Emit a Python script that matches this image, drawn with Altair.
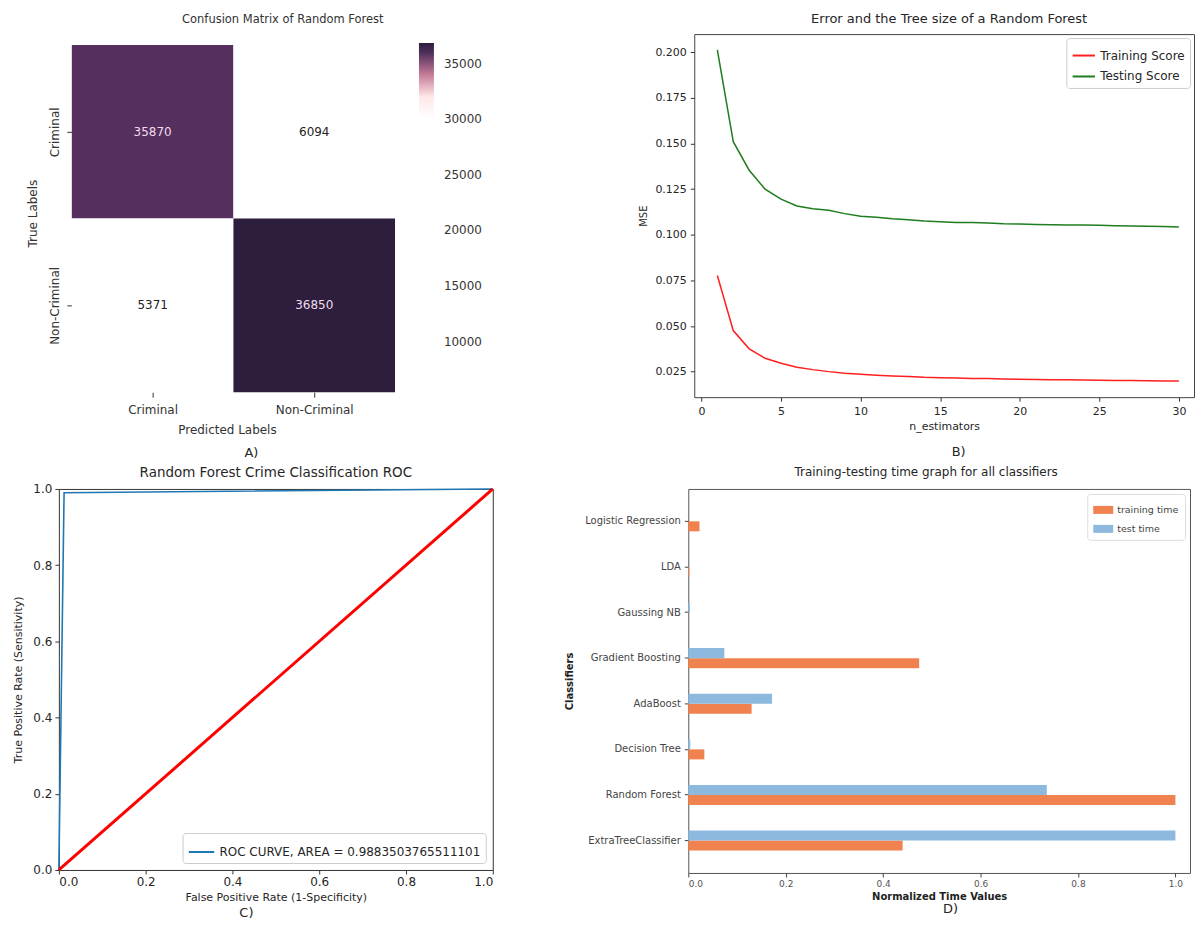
import altair as alt
import pandas as pd

# ---------------- Panel A: confusion matrix ----------------
cm_labels = ["Criminal", "Non-Criminal"]
cm_true = ["Criminal", "Criminal", "Non-Criminal", "Non-Criminal"]
cm_pred = ["Criminal", "Non-Criminal", "Criminal", "Non-Criminal"]
cm_values = [35870, 6094, 5371, 36850]
cm_ticks = [10000, 15000, 20000, 25000, 30000, 35000]

# ---------------- Panel B: error vs tree count ----------------
n_estimators = list(range(1, 31))
train_mse = [0.0777, 0.0475, 0.0375, 0.0323, 0.0296, 0.0274, 0.0261, 0.0250, 0.0241, 0.0235,
             0.0230, 0.0226, 0.0223, 0.0219, 0.0217, 0.0215, 0.0213, 0.0212, 0.0210, 0.0208,
             0.0207, 0.0206, 0.0205, 0.0204, 0.0203, 0.0202, 0.0201, 0.0200, 0.0199, 0.0198]
test_mse = [0.2013, 0.1510, 0.1354, 0.1250, 0.1195, 0.1158, 0.1143, 0.1134, 0.1116, 0.1101,
            0.1096, 0.1088, 0.1083, 0.1076, 0.1072, 0.1068, 0.1067, 0.1065, 0.1061, 0.1059,
            0.1057, 0.1055, 0.1054, 0.1054, 0.1052, 0.1050, 0.1048, 0.1047, 0.1045, 0.1043]
b_xticks = [0, 5, 10, 15, 20, 25, 30]
b_yticks = [0.025, 0.050, 0.075, 0.100, 0.125, 0.150, 0.175, 0.200]

# ---------------- Panel C: ROC ----------------
roc_fpr = [0.0, 0.012, 1.0]
roc_tpr = [0.0, 0.99, 1.0]
diag_vals = [0.0, 1.0]
roc_label = "ROC CURVE, AREA = 0.9883503765511101"
unit_ticks = [0.0, 0.2, 0.4, 0.6, 0.8, 1.0]

# ---------------- Panel D: timing ----------------
classifiers = ["Logistic Regression", "LDA", "Gaussing NB", "Gradient Boosting",
               "AdaBoost", "Decision Tree", "Random Forest", "ExtraTreeClassifier"]
training_time = [0.023, 0.002, 0.0, 0.474, 0.130, 0.033, 1.0, 0.440]
test_time = [0.0, 0.0, 0.003, 0.074, 0.172, 0.004, 0.736, 1.0]

FONT = "DejaVu Sans"
TXT = "#262626"


def letter(txt, x, y):
    return alt.Chart(pd.DataFrame({"t": [txt]})).mark_text(
        fontSize=13, color=TXT, font=FONT
    ).encode(x=alt.value(x), y=alt.value(y), text="t:N")


# ---- A ----
n_lab = len(cm_labels)
df_cm = pd.DataFrame({"true": cm_true, "pred": cm_pred, "value": cm_values})
df_cm["x0"] = [cm_labels.index(p) for p in cm_pred]
df_cm["x1"] = df_cm["x0"] + 1
df_cm["y0"] = [n_lab - 1 - cm_labels.index(t) for t in cm_true]
df_cm["y1"] = df_cm["y0"] + 1
df_cm["xc"] = df_cm["x0"] + 0.5
df_cm["yc"] = df_cm["y0"] + 0.5

xa = alt.X("x0:Q", scale=alt.Scale(domain=[-0.0802, 2], nice=False, zero=False),
           axis=alt.Axis(title="Predicted Labels", values=[0.5, 1.5],
                         labelExpr="datum.value < 1 ? 'Criminal' : 'Non-Criminal'",
                         labelAngle=0, labelFontSize=12, titleFontSize=12,
                         titleFontWeight="normal", tickSize=5, labelPadding=7,
                         titlePadding=9, domain=False, tickColor="#333",
                         labelColor="#333", titleColor="#333"))
ya = alt.Y("y0:Q", scale=alt.Scale(domain=[0, 2.0632], nice=False, zero=False),
           axis=alt.Axis(title="True Labels", values=[0.5, 1.5],
                         labelExpr="datum.value > 1 ? 'Criminal' : 'Non-Criminal'",
                         labelAngle=270, labelAlign="center", labelBaseline="bottom",
                         labelFontSize=12, titleFontSize=12, titleFontWeight="normal",
                         tickSize=5, labelPadding=5, titlePadding=9, domain=False,
                         offset=-13, tickColor="#333", labelColor="#333",
                         titleColor="#333"))
rect = alt.Chart(df_cm).mark_rect().encode(
    x=xa, x2="x1:Q", y=ya, y2="y1:Q",
    color=alt.Color("value:Q",
                    scale=alt.Scale(domain=[5371, 31200, 32600, 33600, 34600, 35870, 36850],
                                    range=["#ffffff", "#ffffff", "#f7dcdc", "#dc93a7",
                                           "#a25885", "#55305e", "#2d1e3e"]),
                    legend=alt.Legend(title=None, orient="none", legendX=361, legendY=9,
                                      direction="vertical", gradientLength=351,
                                      gradientThickness=15, gradientStrokeWidth=0,
                                      values=cm_ticks, format="d", labelFontSize=12,
                                      labelColor="#333", labelOffset=10, labelOverlap=False)))
cell_text = alt.Chart(df_cm).mark_text(fontSize=12, font=FONT).encode(
    x="xc:Q", y="yc:Q",
    text=alt.Text("value:Q", format="d"),
    color=alt.condition(alt.datum.value > 20000, alt.value("#f2dcea"), alt.value("#222222")))
panel_a = alt.layer(rect, cell_text, letter("A)", 193, 420)).properties(
    width=337, height=359,
    title=alt.TitleParams("Confusion Matrix of Random Forest", fontSize=11.5,
                          fontWeight="normal", offset=9, dx=56, color="#333"),
    view=alt.ViewBackground(stroke="transparent"))

# ---- B ----
df_b = pd.DataFrame({
    "n": n_estimators + n_estimators,
    "mse": train_mse + test_mse,
    "series": ["Training Score"] * len(n_estimators) + ["Testing Score"] * len(n_estimators),
})
line_b = alt.Chart(df_b).mark_line(strokeWidth=1.5).encode(
    x=alt.X("n:Q", scale=alt.Scale(domain=[-0.45, 30.95], nice=False, zero=False),
            axis=alt.Axis(values=b_xticks, title="n_estimators", labelFontSize=11,
                          titleFontSize=11, titleFontWeight="normal", tickSize=4,
                          labelPadding=4, titlePadding=4, domain=False, labelColor=TXT,
                          titleColor=TXT, tickColor="#333")),
    y=alt.Y("mse:Q", scale=alt.Scale(domain=[0.011, 0.210], nice=False, zero=False),
            axis=alt.Axis(values=b_yticks, format=".3f", title="MSE", labelFontSize=11,
                          titleFontSize=10, titleFontWeight="normal", tickSize=4,
                          labelPadding=4, titlePadding=6, domain=False, labelColor=TXT,
                          titleColor=TXT, tickColor="#333")),
    color=alt.Color("series:N",
                    scale=alt.Scale(domain=["Training Score", "Testing Score"],
                                    range=["#ff1f1f", "#1e7d1e"]),
                    legend=alt.Legend(title=None, orient="top-right", offset=4,
                                      symbolType="stroke", symbolStrokeWidth=2,
                                      symbolSize=500, labelFontSize=12, labelColor=TXT,
                                      padding=5, rowPadding=2, strokeColor="#cccccc",
                                      fillColor="white", cornerRadius=3)))
panel_b = alt.layer(line_b, letter("B)", 265, 419)).properties(
    width=501, height=364,
    title=alt.TitleParams("Error and the Tree size of a Random Forest", fontSize=13,
                          fontWeight="normal", offset=8, dx=5, color=TXT),
    view=alt.ViewBackground(stroke="#444"))

# ---- C ----
df_roc = pd.DataFrame({"fpr": roc_fpr, "tpr": roc_tpr, "label": [roc_label] * len(roc_fpr)})
df_diag = pd.DataFrame({"fpr": diag_vals, "tpr": diag_vals})
xc = alt.X("fpr:Q", scale=alt.Scale(domain=[0, 1], nice=False),
           axis=alt.Axis(values=unit_ticks, format=".1f",
                         title="False Positive Rate (1-Specificity)", labelFontSize=12,
                         titleFontSize=11, titleFontWeight="normal", tickSize=4,
                         labelPadding=3, titlePadding=4, domain=False, labelColor=TXT,
                         titleColor=TXT, tickColor="#333"))
yc = alt.Y("tpr:Q", scale=alt.Scale(domain=[0, 1], nice=False),
           axis=alt.Axis(values=unit_ticks, format=".1f",
                         title="True Positive Rate (Sensitivity)", labelFontSize=12,
                         titleFontSize=11, titleFontWeight="normal", tickSize=4,
                         labelPadding=3, titlePadding=9, domain=False, labelColor=TXT,
                         titleColor=TXT, tickColor="#333"))
roc_line = alt.Chart(df_roc).mark_line(strokeWidth=1.6).encode(
    x=xc, y=yc,
    color=alt.Color("label:N", scale=alt.Scale(domain=[roc_label], range=["#1f77b4"]),
                    legend=alt.Legend(title=None, orient="bottom-right", offset=7,
                                      symbolType="stroke", symbolStrokeWidth=2,
                                      symbolSize=650, labelFontSize=12, labelColor=TXT,
                                      padding=5, strokeColor="#cccccc", fillColor="white",
                                      cornerRadius=3, labelLimit=400)))
diag_line = alt.Chart(df_diag).mark_line(color="#ff0000", strokeWidth=3).encode(
    x="fpr:Q", y="tpr:Q")
panel_c = alt.layer(roc_line, diag_line, letter("C)", 188, 425)).properties(
    width=435, height=382,
    title=alt.TitleParams("Random Forest Crime Classification ROC", fontSize=13.5,
                          fontWeight="normal", offset=3, color=TXT),
    view=alt.ViewBackground(stroke="#333"))

# ---- D ----
df_d = pd.DataFrame({
    "classifier": classifiers + classifiers,
    "series": ["training time"] * len(classifiers) + ["test time"] * len(classifiers),
    "value": training_time + test_time,
})
bars = alt.Chart(df_d).mark_bar().encode(
    y=alt.Y("classifier:N", sort=classifiers,
            scale=alt.Scale(paddingInner=0.56, paddingOuter=0.49),
            axis=alt.Axis(title="Classifiers", titleFontWeight="bold", titleFontSize=10,
                          labelFontSize=10, tickSize=4, labelPadding=4, titlePadding=10,
                          domain=False, labelColor="#444", titleColor="#222",
                          tickColor="#444", labelLimit=200)),
    yOffset=alt.YOffset("series:N", sort=["test time", "training time"],
                        scale=alt.Scale(paddingInner=0, paddingOuter=0)),
    x=alt.X("value:Q", scale=alt.Scale(domain=[0, 1.03], nice=False),
            axis=alt.Axis(values=unit_ticks, format=".1f", title="Normalized Time Values",
                          titleFontWeight="bold", titleFontSize=10, labelFontSize=9,
                          tickSize=4, labelPadding=3, titlePadding=3, domain=False,
                          labelColor="#555", titleColor="#222", tickColor="#444")),
    color=alt.Color("series:N",
                    scale=alt.Scale(domain=["training time", "test time"],
                                    range=["#f0824f", "#8cb9dd"]),
                    legend=alt.Legend(title=None, orient="top-right", offset=5,
                                      symbolType="M-1,-0.4L1,-0.4L1,0.4L-1,0.4Z",
                                      symbolSize=400, symbolStrokeWidth=0,
                                      labelFontSize=9.5, labelColor="#444", padding=6,
                                      rowPadding=4, strokeColor="#dddddd",
                                      fillColor="white", cornerRadius=3)))
panel_d = alt.layer(bars, letter("D)", 263, 421)).properties(
    width=503, height=385,
    title=alt.TitleParams("Training-testing time graph for all classifiers", fontSize=12,
                          fontWeight="normal", offset=10, dx=-13, color=TXT),
    view=alt.ViewBackground(stroke="#555"))

top = alt.hconcat(panel_a, panel_b, spacing=155).resolve_scale(color="independent")
bottom = alt.hconcat(panel_c, panel_d, spacing=64).resolve_scale(color="independent")

chart = alt.vconcat(top, bottom, spacing=4).resolve_scale(color="independent").properties(
    padding={"left": 4, "top": 3, "right": 0, "bottom": 0}
).configure(font=FONT).configure_view(stroke="transparent").configure_axis(grid=False)

chart.save("out.html", embed_options={"renderer": "svg", "actions": False})
